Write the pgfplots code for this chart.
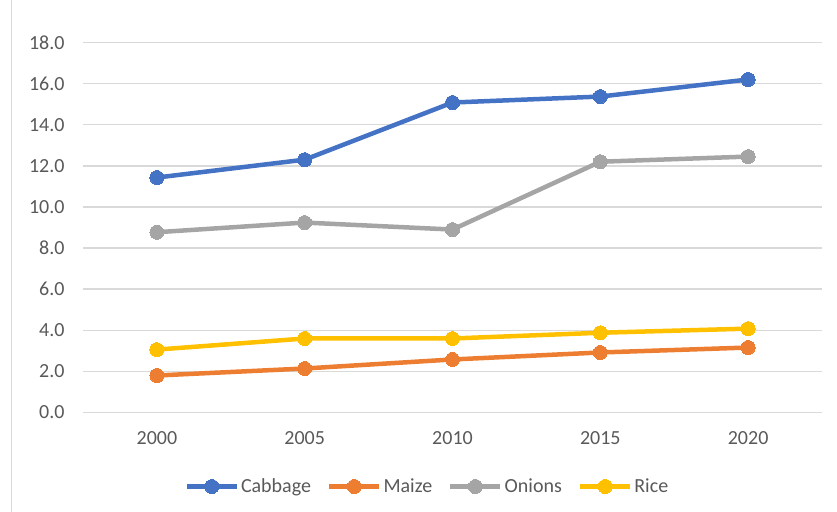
\documentclass[border=0pt]{standalone}
\usepackage{pgfplots}
\pgfplotsset{compat=1.18}
\usepackage{fontspec}
\setmainfont{Carlito}
\definecolor{cab}{HTML}{4472C4}
\definecolor{mai}{HTML}{ED7D31}
\definecolor{oni}{HTML}{A5A5A5}
\definecolor{ric}{HTML}{FFC000}
\definecolor{txt}{HTML}{595959}
\definecolor{grd}{HTML}{D9D9D9}
\begin{document}
\begin{tikzpicture}
\begin{axis}[
  scale only axis,
  width=739bp, height=370bp,
  xmin=-0.5, xmax=4.5,
  ymin=0, ymax=18,
  ytick={0,2,...,18},
  xtick={0,1,2,3,4},
  xticklabels={2000,2005,2010,2015,2020},
  yticklabel={\pgfmathprintnumber[fixed,fixed zerofill,precision=1]{\tick}},
  /pgf/number format/assume math mode=true,
  axis line style={draw=none},
  major tick length=0pt,
  ymajorgrids,
  grid style={grd, line width=1.5bp},
  tick label style={font=\fontsize{20bp}{22bp}\selectfont, text=txt},
  yticklabel style={xshift=-15bp},
  xticklabel style={yshift=-16bp},
  legend style={at={(0.466,-0.2)}, anchor=center, draw=none, fill=none,
    font=\fontsize{20bp}{22bp}\selectfont, text=txt, legend columns=4,
    /tikz/every even column/.append style={column sep=14bp}},
  legend image code/.code={\draw[mark repeat=2,mark phase=2] plot coordinates {(0bp,0bp)(25bp,0bp)(50bp,0bp)};},
  every axis plot/.append style={line width=4.5bp},
]
\addplot[cab, mark=*, mark options={fill=cab, draw=cab, line width=0pt, mark size=7bp}] coordinates {(0,11.43)(1,12.3)(2,15.08)(3,15.37)(4,16.2)};
\addlegendentry{Cabbage}
\addplot[mai, mark=*, mark options={fill=mai, draw=mai, line width=0pt, mark size=7bp}] coordinates {(0,1.8)(1,2.14)(2,2.58)(3,2.92)(4,3.16)};
\addlegendentry{Maize}
\addplot[oni, mark=*, mark options={fill=oni, draw=oni, line width=0pt, mark size=7bp}] coordinates {(0,8.77)(1,9.24)(2,8.9)(3,12.2)(4,12.45)};
\addlegendentry{Onions}
\addplot[ric, mark=*, mark options={fill=ric, draw=ric, line width=0pt, mark size=7bp}] coordinates {(0,3.06)(1,3.6)(2,3.6)(3,3.88)(4,4.08)};
\addlegendentry{Rice}
\end{axis}
\path ([xshift=-83bp,yshift=-99bp]current axis.south west) rectangle ([xshift=15bp,yshift=42bp]current axis.north east);
\draw[grd, line width=1bp] ([xshift=-71bp,yshift=-99bp]current axis.south west) -- ([xshift=-71bp,yshift=42bp]current axis.north west);
\end{tikzpicture}
\end{document}
